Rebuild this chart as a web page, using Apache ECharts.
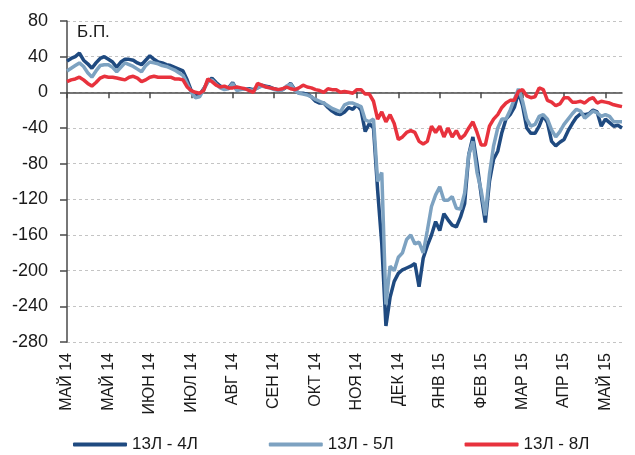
<!DOCTYPE html>
<html>
<head>
<meta charset="utf-8">
<script src="https://cdn.jsdelivr.net/npm/echarts@6/dist/echarts.min.js"></script>
<style>
  html, body { margin: 0; padding: 0; background: #fff; }
  #chart { width: 635px; height: 455px; }
</style>
</head>
<body>
<div id="chart"></div>
<script>
// подписи оси X (каждые 10 точек)
const tickLabels = ['МАЙ 14', 'МАЙ 14', 'ИЮН 14', 'ИЮЛ 14', 'АВГ 14', 'СЕН 14', 'ОКТ 14',
  'НОЯ 14', 'ДЕК 14', 'ЯНВ 15', 'ФЕВ 15', 'МАР 15', 'АПР 15', 'МАЙ 15']
const seriesNames = ['13Л - 4Л', '13Л - 5Л', '13Л - 8Л']

// спреды, б.п.
const s4 = [
  35, 38, 40, 44, 36, 32, 27, 33, 38, 40, 37, 34, 28, 34, 37, 37, 36, 33, 31, 36,
  41, 37, 34, 33, 31, 30, 28, 26, 24, 14, 2, -3, -3, 4, 12, 16, 11, 7, 4, 5,
  11, 3, 4, 4, 4, 3, 5, 8, 7, 6, 4, 3, 3, 6, 10, 3, -1, -1, -2, -5,
  -10, -12, -12, -17, -21, -24, -25, -22, -17, -19, -14, -20, -44, -35, -40, -110, -170, -262, -230, -212,
  -203, -199, -197, -195, -192, -218, -186, -172, -160, -145, -155, -136, -143, -149, -151, -140, -125, -70, -50, -80,
  -115, -146, -100, -75, -66, -45, -30, -25, -17, 0, -15, -40, -46, -46, -38, -26, -34, -55, -60, -56,
  -53, -43, -35, -28, -24, -25, -24, -20, -22, -38, -30, -34, -38, -37, -40
]
const s5 = [
  24, 27, 30, 33, 29, 22, 17, 24, 30, 31, 31, 28, 23, 28, 33, 31, 29, 26, 23, 30,
  34, 33, 32, 30, 29, 27, 25, 22, 19, 10, 0, -6, -5, 3, 12, 14, 9, 5, 3, 4,
  10, 2, 3, 4, 3, 2, 5, 7, 6, 5, 3, 2, 3, 7, 9, 2, -1, -2, -3, -5,
  -8, -10, -12, -15, -18, -20, -22, -14, -12, -12, -14, -16, -31, -33, -30, -100, -90, -238, -195, -200,
  -185, -180, -165, -160, -170, -168, -180, -155, -128, -115, -106, -121, -121, -117, -130, -131, -113, -70, -55, -90,
  -110, -138, -92, -60, -40, -30, -30, -20, -8, 4, -10, -30, -38, -36, -27, -25, -30, -42, -50, -44,
  -36, -30, -24, -19, -21, -29, -25, -21, -23, -27, -25, -27, -33, -33, -33
]
const s8 = [
  12, 14, 15, 17, 14, 10, 7, 11, 16, 18, 17, 17, 16, 15, 14, 17, 18, 16, 12, 14,
  17, 18, 17, 17, 17, 17, 15, 15, 14, 6, 2, 0, -1, 2, 15, 12, 8, 6, 7, 5,
  5, 6, 5, 4, 2, 0, 10, 8, 6, 5, 4, 3, 4, 6, 4, 3, 5, 8, 6, 5,
  3, 2, 0, 4, 3, 3, 0, 1, 0, -1, 3, 3, -2, -2, -10, -30, -22, -33, -25, -35,
  -53, -50, -45, -43, -45, -55, -58, -55, -38, -45, -38, -50, -40, -50, -43, -52, -48, -40, -33, -45,
  -59, -59, -38, -30, -25, -17, -12, -9, -9, 1, 3, -4, -6, -5, 5, 3, -9, -11, -15, -13,
  -6, -6, -11, -11, -10, -12, -8, -6, -12, -10, -11, -12, -14, -15, -16
]

const colors = ['#1f4a80', '#7da2c1', '#e8323d']
const font = '"Liberation Sans", Arial, sans-serif'
const textcolor = '#1a1a1a'
const axisColor = '#4a4a4a'
const cats = s4.map((v, i) => i)

let myChart = echarts.init(document.getElementById('chart'))
myChart.setOption({
  animation: false,
  color: colors,
  grid: {
    left: 67,
    right: 13,
    top: 21,
    bottom: 113,
  },
  graphic: [
    {
      type: 'text',
      left: 77,
      top: 24,
      style: {
        text: 'Б.П.',
        fill: textcolor,
        font: '17px ' + font,
      },
    },
  ],
  legend: {
    left: 68,
    top: 431,
    icon: 'roundRect',
    itemWidth: 54,
    itemHeight: 4,
    itemGap: 71,
    data: seriesNames,
    textStyle: {
      color: textcolor,
      fontSize: 17,
      fontFamily: font,
    },
  },
  xAxis: [
    {
      type: 'category',
      boundaryGap: false,
      position: 'bottom',
      data: cats,
      axisLine: { show: false, onZero: false },
      axisTick: { show: false },
      splitLine: { show: false },
      axisLabel: {
        interval: 9,
        rotate: 90,
        margin: 11,
        color: textcolor,
        fontSize: 16,
        fontFamily: font,
        formatter: (v, idx) => tickLabels[idx / 10] || '',
      },
    },
    {
      type: 'category',
      boundaryGap: false,
      position: 'top',
      data: cats,
      axisLine: {
        show: true,
        onZero: true,
        onZeroAxisIndex: 0,
        lineStyle: { color: axisColor, width: 1.5 },
      },
      axisTick: {
        show: true,
        inside: true,
        interval: 9,
        length: 6,
        lineStyle: { color: axisColor, width: 1.5 },
      },
      axisLabel: { show: false },
      splitLine: { show: false },
    },
  ],
  yAxis: {
    type: 'value',
    min: -280,
    max: 80,
    interval: 40,
    axisLine: {
      show: true,
      lineStyle: { color: axisColor, width: 1.5 },
    },
    axisTick: {
      show: true,
      length: 7,
      lineStyle: { color: axisColor, width: 1.5 },
    },
    axisLabel: {
      margin: 19,
      color: textcolor,
      fontSize: 18,
      fontFamily: font,
    },
    splitLine: {
      lineStyle: { color: '#c4c4c4', type: [3, 3], width: 1 },
    },
  },
  series: [
    { name: seriesNames[0], data: s4 },
    { name: seriesNames[1], data: s5 },
    { name: seriesNames[2], data: s8 },
  ].map((s) => ({
    ...s,
    type: 'line',
    xAxisIndex: 0,
    showSymbol: false,
    lineStyle: { width: 3.5 },
  })),
})
</script>
</body>
</html>
